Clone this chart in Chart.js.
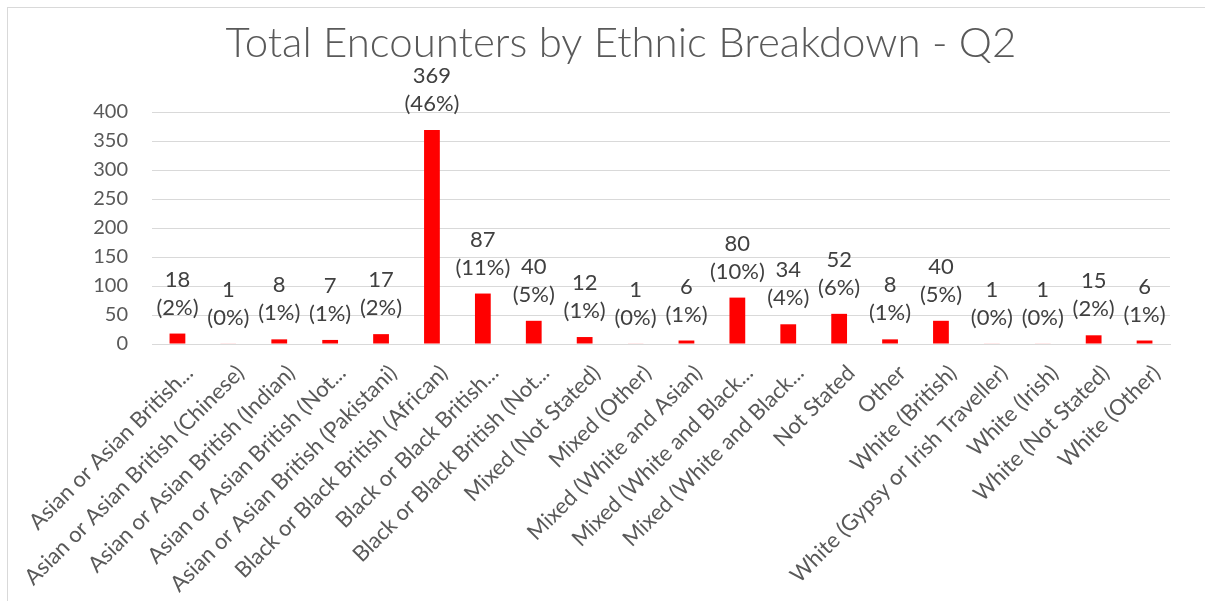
<!DOCTYPE html>
<html>
<head>
<meta charset="utf-8">
<script src="https://cdn.jsdelivr.net/npm/chart.js@4"></script>
<style>
  html, body { margin: 0; padding: 0; background: #fff; }
  #wrap { position: relative; width: 1205px; height: 601px; }
  #frame { position: absolute; left: 7px; top: 7px; width: 1220px; height: 620px;
           border: 1px solid #d9d9d9; pointer-events: none; }
</style>
</head>
<body>
<div id="wrap">
  <canvas id="chart" width="1205" height="601"></canvas>
  <div id="frame"></div>
</div>
<script>
const chartTitle = 'Total Encounters by Ethnic Breakdown - Q2';
const categories = [
  'Asian or Asian British...',
  'Asian or Asian British (Chinese)',
  'Asian or Asian British (Indian)',
  'Asian or Asian British (Not...',
  'Asian or Asian British (Pakistani)',
  'Black or Black British (African)',
  'Black or Black British...',
  'Black or Black British (Not...',
  'Mixed (Not Stated)',
  'Mixed (Other)',
  'Mixed (White and Asian)',
  'Mixed (White and Black...',
  'Mixed (White and Black...',
  'Not Stated',
  'Other',
  'White (British)',
  'White (Gypsy or Irish Traveller)',
  'White (Irish)',
  'White (Not Stated)',
  'White (Other)'
];
const encounters = [18, 1, 8, 7, 17, 369, 87, 40, 12, 1, 6, 80, 34, 52, 8, 40, 1, 1, 15, 6];
const percents = [2, 0, 1, 1, 2, 46, 11, 5, 1, 0, 1, 10, 4, 6, 1, 5, 0, 0, 2, 1];
const yTicks = [0, 50, 100, 150, 200, 250, 300, 350, 400];

// draw "value (pct%)" above each bar, like the Excel data labels
const barLabels = {
  id: 'barLabels',
  afterDatasetsDraw(chart) {
    const ctx = chart.ctx;
    const meta = chart.getDatasetMeta(0);
    ctx.save();
    ctx.fillStyle = '#404040';
    ctx.font = '22px Lato';
    ctx.textAlign = 'center';
    ctx.textBaseline = 'middle';
    meta.data.forEach((bar, i) => {
      ctx.fillText(String(encounters[i]), bar.x, bar.y - 54);
      ctx.fillText('(' + percents[i] + '%)', bar.x, bar.y - 26);
    });
    ctx.restore();
  }
};

// title is centred on the chart frame, not on the plot, so draw it here
const frameTitle = {
  id: 'frameTitle',
  afterDraw(chart) {
    const ctx = chart.ctx;
    ctx.save();
    ctx.fillStyle = '#595959';
    ctx.font = '300 42px Lato';
    ctx.textAlign = 'center';
    ctx.textBaseline = 'middle';
    ctx.fillText(chartTitle, 621, 43);
    ctx.restore();
  }
};

const ctx = document.getElementById('chart').getContext('2d');
new Chart(ctx, {
  type: 'bar',
  data: {
    labels: categories,
    datasets: [{
      label: 'Encounters',
      data: encounters,
      backgroundColor: '#ff0000',
      borderWidth: 0,
      barPercentage: 0.31,
      categoryPercentage: 1
    }]
  },
  options: {
    responsive: false,
    animation: false,
    layout: { padding: { left: 7, right: 35, top: 112, bottom: 0 } },
    plugins: {
      legend: { display: false },
      tooltip: { enabled: false },
      title: { display: false }
    },
    scales: {
      x: {
        grid: { display: false },
        border: { display: true, color: '#d9d9d9', width: 1 },
        afterFit(scale) { scale.height = 257; },
        ticks: {
          autoSkip: false,
          minRotation: 45,
          maxRotation: 45,
          color: '#595959',
          font: { family: 'Lato', size: 22 },
          padding: 8,
          labelOffset: 12
        }
      },
      y: {
        min: 0,
        max: 400,
        afterBuildTicks(scale) {
          scale.ticks = yTicks.map(v => ({ value: v }));
        },
        afterFit(scale) { scale.width = 145; },
        grid: { color: '#d9d9d9', lineWidth: 1, drawTicks: false },
        border: { display: false },
        ticks: {
          color: '#595959',
          font: { family: 'Lato', size: 20 },
          padding: 24
        }
      }
    }
  },
  plugins: [barLabels, frameTitle]
});
</script>
</body>
</html>
